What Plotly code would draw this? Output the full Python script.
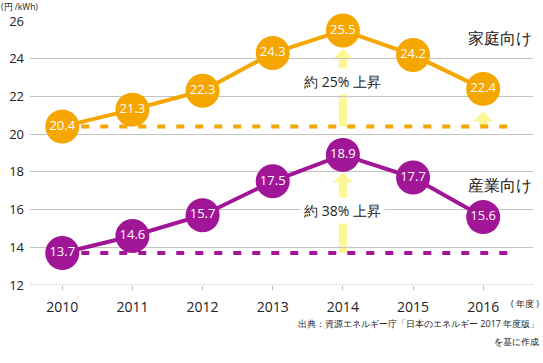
import plotly.graph_objects as go

years = [2010, 2011, 2012, 2013, 2014, 2015, 2016]
household = [20.4, 21.3, 22.3, 24.3, 25.5, 24.2, 22.4]
industry = [13.7, 14.6, 15.7, 17.5, 18.9, 17.7, 15.6]
y_ticks = [12, 14, 16, 18, 20, 22, 24, 26]
household_label = "家庭向け"
industry_label = "産業向け"
household_rise = "約 25% 上昇"
industry_rise = "約 38% 上昇"

ORANGE = "rgb(246,166,0)"
PURPLE = "rgb(160,22,150)"
YELLOW = "rgb(255,246,150)"
FONT = "Open Sans"

W, H = 543, 363
ML, MR, MT, MB = 30, 10, 21, 78
XR = [2009.54, 2016.71]
YR = [12, 26]
PW, PH = W - ML - MR, H - MT - MB
XPX = PW / (XR[1] - XR[0])   # px per year
YPX = PH / (YR[1] - YR[0])   # px per unit

fig = go.Figure()

# baselines (dashed) from 2010 value
base_end = years[-1] + 0.45
fig.add_trace(go.Scatter(x=[years[0], base_end], y=[household[0]] * 2, mode="lines",
                         line=dict(color=ORANGE, width=4, dash="8px,11px"),
                         hoverinfo="skip", showlegend=False))
fig.add_trace(go.Scatter(x=[years[0], base_end], y=[industry[0]] * 2, mode="lines",
                         line=dict(color=PURPLE, width=4, dash="8px,11px"),
                         hoverinfo="skip", showlegend=False))


def arrow_path(x, y0, tip, shaft_w=8, head_w=20, head_h=10):
    sw = shaft_w / 2 / XPX
    hw = head_w / 2 / XPX
    hb = tip - head_h / YPX
    return (f"M {x - sw},{y0} L {x - sw},{hb} L {x - hw},{hb} L {x},{tip} "
            f"L {x + hw},{hb} L {x + sw},{hb} L {x + sw},{y0} Z")

shapes = []
for x, y0, tip in [(2014, household[0], household[4] - 0.97),
                   (2014, industry[0], industry[4] - 0.94),
                   (2016, household[0], household[0] + 0.8)]:
    shapes.append(dict(type="path", xref="x", yref="y", path=arrow_path(x, y0, tip),
                       fillcolor=YELLOW, line=dict(width=0), layer="below"))

for vals, col in [(household, ORANGE), (industry, PURPLE)]:
    fig.add_trace(go.Scatter(
        x=years, y=vals, mode="lines+markers+text",
        line=dict(color=col, width=4),
        marker=dict(size=34, color=col, line=dict(width=0)),
        text=[f"{v:.1f}" for v in vals], textposition="middle center",
        textfont=dict(color="white", size=13, family=FONT),
        cliponaxis=False, showlegend=False, hoverinfo="skip"))


def px_to_paper(xp, yp):
    return (xp - ML) / PW, 1 - (yp - MT) / PH

annotations = []
annotations.append(dict(x=2014, y=22.8, xref="x", yref="y", text=household_rise,
                        showarrow=False, bgcolor="white", borderpad=3,
                        font=dict(size=14, color="#222", family=FONT)))
annotations.append(dict(x=2014, y=15.95, xref="x", yref="y", text=industry_rise,
                        showarrow=False, bgcolor="white", borderpad=3,
                        font=dict(size=14, color="#222", family=FONT)))
for txt, xp, yp in [(household_label, 466, 38), (industry_label, 466, 185)]:
    px, py = px_to_paper(xp, yp)
    annotations.append(dict(x=px, y=py, xref="paper", yref="paper", text=txt,
                            showarrow=False, xanchor="left", yanchor="middle",
                            font=dict(size=16, color="#222", family=FONT)))

extra = [
    ("(円 /kWh)", 0, 0, "left", "top", 8.5),
    ("( 年度 )", 540, 303, "right", "middle", 9),
    ("出典：資源エネルギー庁「日本のエネルギー 2017 年度版」", 540, 323, "right", "middle", 9),
    ("を基に作成", 540, 341, "right", "middle", 9),
]
for txt, xp, yp, anc, vanc, sz in extra:
    px, py = px_to_paper(xp, yp)
    annotations.append(dict(x=px, y=py, xref="paper", yref="paper", text=txt,
                            showarrow=False, xanchor=anc, yanchor=vanc, borderpad=0,
                            font=dict(size=sz, color="#222", family=FONT)))

# dotted bottom line at 12
shapes.append(dict(type="line", xref="paper", yref="y", x0=0, x1=1, y0=12, y1=12,
                   line=dict(color="white", width=2), layer="above"))
shapes.append(dict(type="line", xref="paper", yref="y", x0=0, x1=1, y0=12, y1=12,
                   line=dict(color="#bbb", width=1, dash="3px,1px"), layer="above"))

fig.update_layout(
    width=W, height=H,
    margin=dict(l=ML, r=MR, t=MT, b=MB),
    paper_bgcolor="white", plot_bgcolor="white",
    font=dict(family=FONT, color="#222"),
    xaxis=dict(range=XR, tickvals=years, showgrid=False,
               zeroline=False, ticks="outside", ticklen=4, tickcolor="#bbb",
               tickfont=dict(size=14, family=FONT), ticklabelstandoff=5),
    yaxis=dict(range=YR, tickvals=y_ticks, showgrid=True, gridcolor="#c4c4c4",
               gridwidth=1, zeroline=False, tickfont=dict(size=13, family=FONT),
               ticklabelstandoff=5),
    annotations=annotations,
    shapes=shapes,
)

fig.write_html("out.html", config={"displayModeBar": False},
               post_script="document.body.style.margin='0px';")
